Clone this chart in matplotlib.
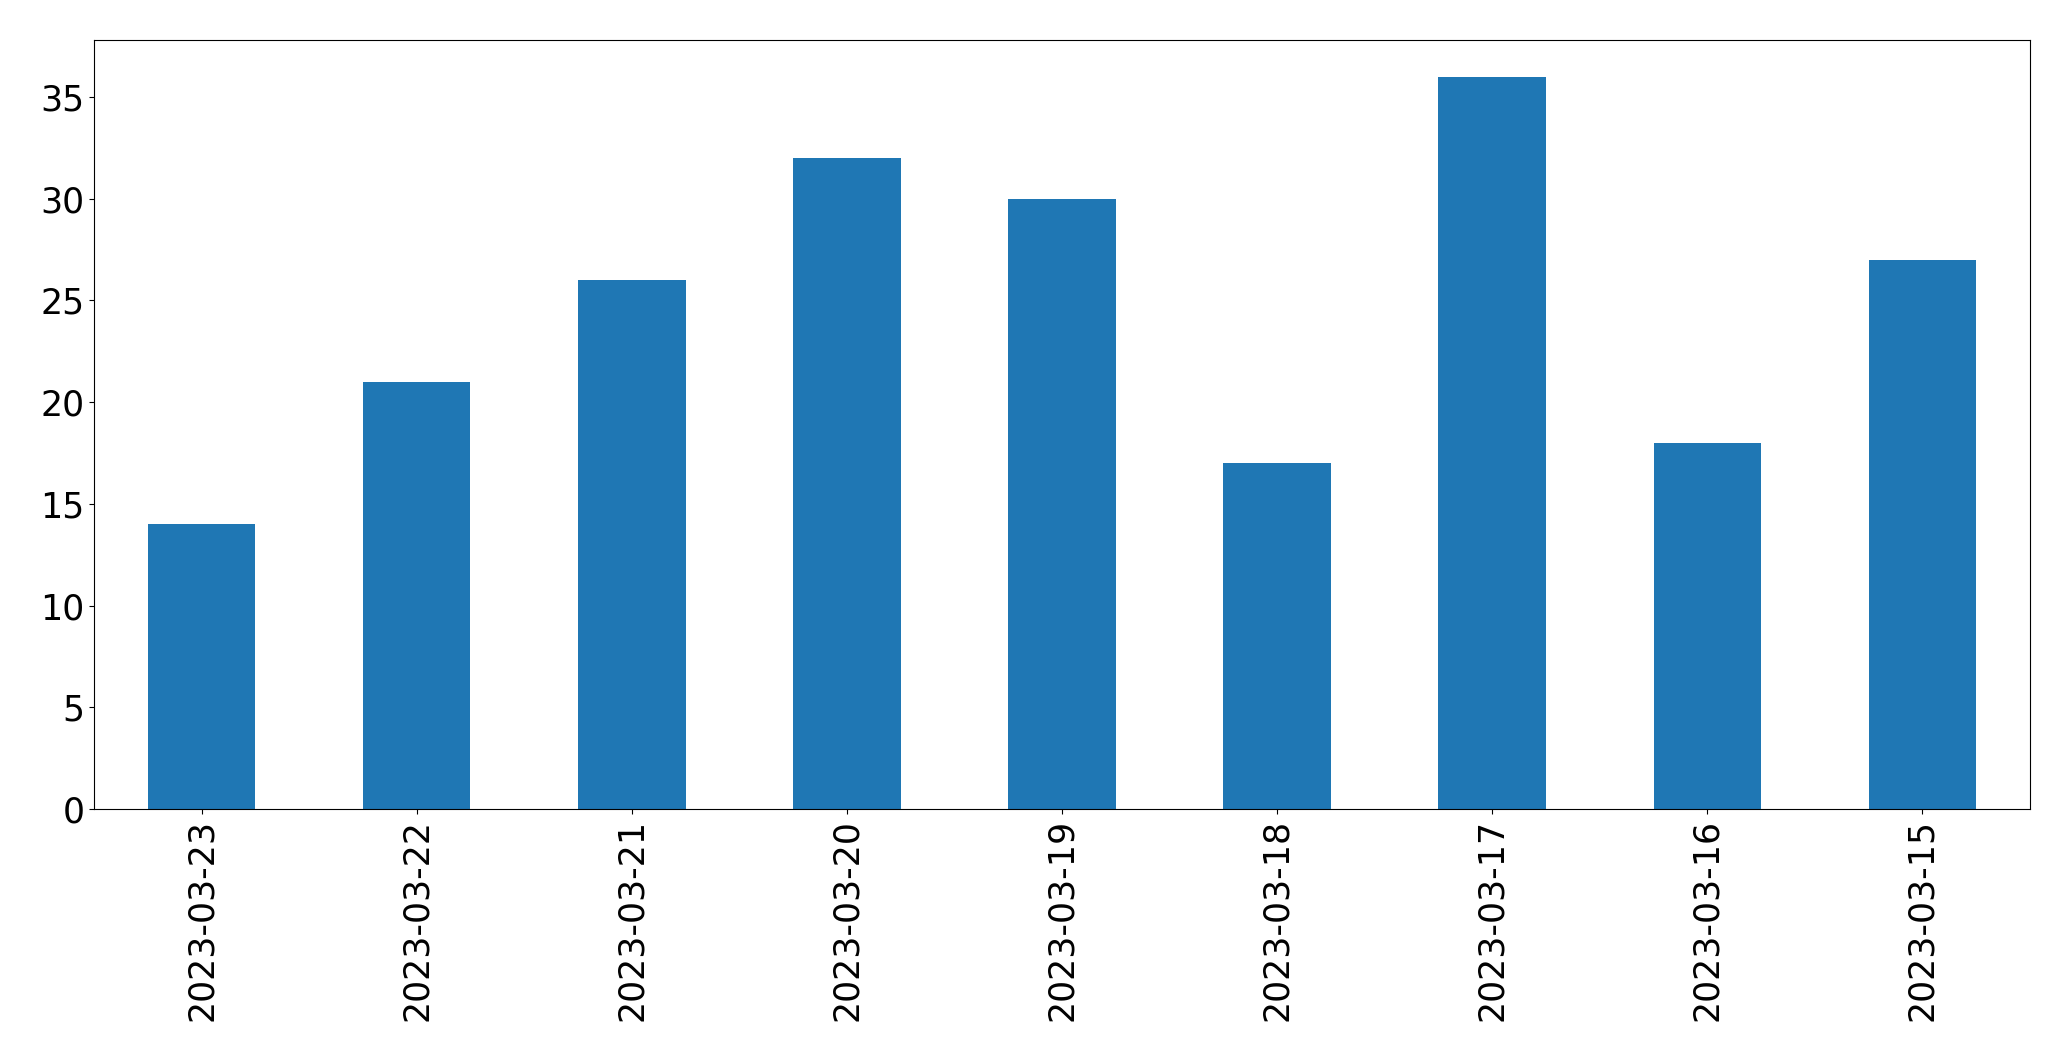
import matplotlib
matplotlib.use("Agg")
import matplotlib.pyplot as plt

dates = ["2023-03-23", "2023-03-22", "2023-03-21", "2023-03-20", "2023-03-19",
         "2023-03-18", "2023-03-17", "2023-03-16", "2023-03-15"]
counts = [14, 21, 26, 32, 30, 17, 36, 18, 27]

fig, ax = plt.subplots(figsize=(20.71, 10.61), dpi=100)
fig.subplots_adjust(left=94 / 2071, right=2030 / 2071, top=1 - 40 / 1061, bottom=1 - 809 / 1061)

x = range(len(dates))
ax.bar(x, counts, width=0.5, color="#1f77b4")
ax.set_xticks(list(x))
ax.set_xticklabels(dates, rotation=90)
ax.set_xlim(-0.5, len(dates) - 0.5)
ax.tick_params(labelsize=25)

fig.savefig("out.png", dpi=100)
